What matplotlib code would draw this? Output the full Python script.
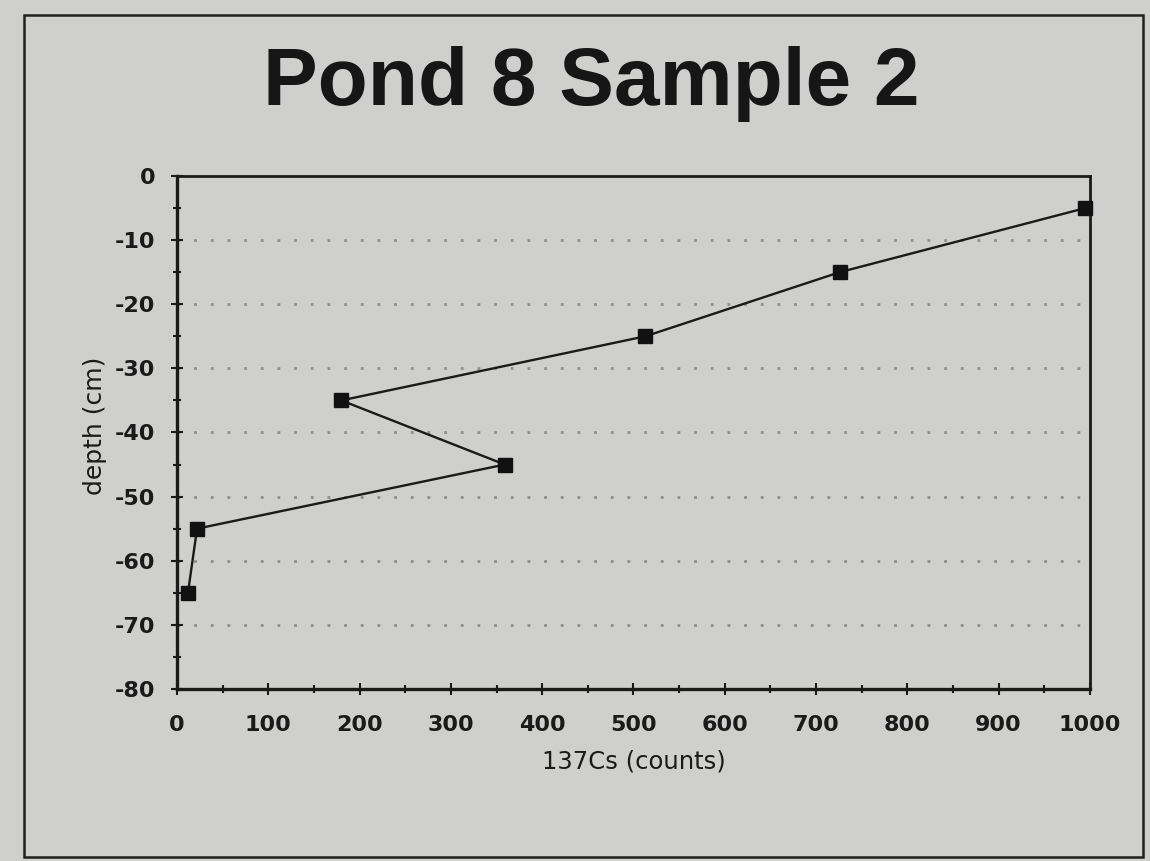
import matplotlib.pyplot as plt
from matplotlib.patches import Rectangle
from matplotlib.ticker import MultipleLocator

# === Data ===
cs_counts = [995, 726, 513, 180, 359, 22, 12]
depth_cm = [-5, -15, -25, -35, -45, -55, -65]
x_ticks = [0, 100, 200, 300, 400, 500, 600, 700, 800, 900, 1000]
y_ticks = [0, -10, -20, -30, -40, -50, -60, -70, -80]
grid_levels = [-10, -20, -30, -40, -50, -60, -70]

plt.rcParams["axes.unicode_minus"] = False

bg = "#cfcfcd"
ink = "#1a1a1a"

fig = plt.figure(figsize=(11.5, 8.61), dpi=100, facecolor=bg)
ax = fig.add_axes([0.1539, 0.1998, 0.7939, 0.5958])
ax.set_facecolor(bg)

# outer frame around the whole chart
fig.patches.append(Rectangle((24 / 1150, 1 - 857 / 861), 1119 / 1150, 842 / 861,
                             transform=fig.transFigure, fill=False,
                             edgecolor="#202020", linewidth=1.8))

# dotted gridlines
for g in grid_levels:
    ax.axhline(g, color="#8e8e8e", linestyle=(0, (1, 5)), linewidth=2.0, zorder=1)

ax.plot(cs_counts, depth_cm, color=ink, linewidth=1.7,
        marker="s", markersize=10, markerfacecolor="#111111",
        markeredgecolor="#111111", zorder=3, clip_on=False)

ax.set_xlim(0, 1000)
ax.set_ylim(-80, 0)
ax.set_xticks(x_ticks)
ax.set_yticks(y_ticks)
ax.xaxis.set_minor_locator(MultipleLocator(50))
ax.yaxis.set_minor_locator(MultipleLocator(5))
ax.tick_params(which="both", direction="inout", color=ink, width=1.5,
               top=False, right=False)
ax.tick_params(which="major", length=9, labelsize=16)
ax.tick_params(axis="x", which="major", pad=14)
ax.tick_params(axis="y", which="major", pad=11)
ax.tick_params(which="minor", length=6)
for lab in ax.get_xticklabels() + ax.get_yticklabels():
    lab.set_family("DejaVu Sans")
    lab.set_fontweight("bold")
    lab.set_color(ink)

for side in ["left", "bottom"]:
    ax.spines[side].set_linewidth(2.4)
for side in ["top", "right"]:
    ax.spines[side].set_linewidth(2.0)
for s in ax.spines.values():
    s.set_color(ink)

# === Texts ===
fig.text(0.5143, 1 - 105 / 861, "Pond 8 Sample 2", ha="center", va="baseline",
         fontsize=59, fontweight="bold", family=["Liberation Sans", "DejaVu Sans"],
         color="#161616")
fig.text(0.5509, 1 - 761 / 861, "137Cs (counts)", ha="center", va="center",
         fontsize=17.5, family="DejaVu Sans", color=ink)
fig.text(0.0826, 0.5052, "depth (cm)", ha="center", va="center", rotation=90,
         fontsize=18, family="DejaVu Sans", color=ink)

plt.savefig("out.png", dpi=100, facecolor=bg)
